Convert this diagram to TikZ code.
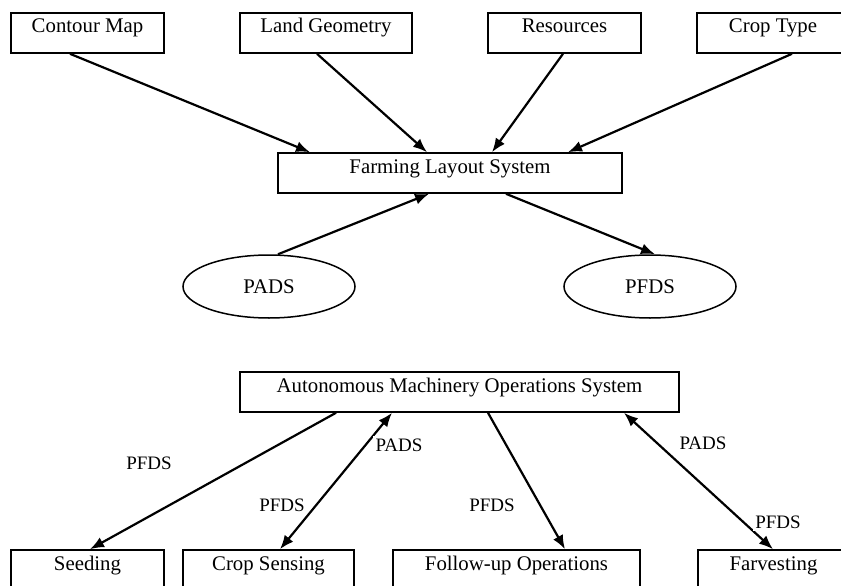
\documentclass[tikz,border=0pt]{standalone}
\usepackage{fontspec}
\setmainfont{Liberation Serif}
\usetikzlibrary{arrows.meta,shapes.geometric}

\begin{document}
\begin{tikzpicture}[
            x = 1pt, y = -1pt, % pixel units, y grows downwards
            > = {Latex[length=14pt,width=11pt]}, % arrow head style
            font = \fontsize{20.8}{24}\selectfont,
            box/.style = {draw, rectangle, line width=1.6pt, minimum height=40pt,
                          inner ysep=6pt, text height=14pt, text depth=14pt},
            oval/.style = {draw, ellipse, line width=1.5pt, minimum width=172pt, minimum height=63pt},
            tag/.style = {fill=white, inner sep=2.5pt, font=\fontsize{19}{22}\selectfont},
            flow/.style = {line width=2.2pt} % connector style
        ]
    \clip (0,0) rectangle (841,586);

	% inputs
	\node[box, minimum width=153pt] (cmap) at (87.5,33) {Contour Map};
	\node[box, minimum width=172pt] (landgeo) at (326,33) {Land Geometry};
	\node[box, minimum width=153pt] (res) at (564.5,33) {Resources};
	\node[box, minimum width=152pt] (croptype) at (773,33) {Crop Type};

	\node[box, minimum width=344pt] (fls) at (450,173) {Farming Layout System};
	\node[oval] (pads) at (269,286.5) {PADS};
	\node[oval] (pfds) at (650,286.5) {PFDS};

	% machinery part
	\node[box, minimum width=439pt] (amos) at (459.5,392) {Autonomous Machinery Operations System};
	\node[box, minimum width=153pt] (seed) at (87.5,570) {Seeding};
	\node[box, minimum width=171pt] (csense) at (268.5,570) {Crop Sensing};
	\node[box, minimum width=247pt] (follow) at (516.5,570) {Follow-up Operations};
	\node[box, minimum width=151pt] (farv) at (773.5,570) {Farvesting};

	\draw[flow,->] ([xshift=-17.5pt]cmap.south) -- ([xshift=-140pt]fls.north);
	\draw[flow,->] ([xshift=-9pt]landgeo.south) -- ([xshift=-23pt]fls.north);
	\draw[flow,->] ([xshift=-1.5pt]res.south) -- ([xshift=42pt]fls.north);
	\draw[flow,->] ([xshift=19pt]croptype.south) -- ([xshift=118pt]fls.north);
	\draw[flow,->] ([xshift=9pt]pads.north) -- ([xshift=-21pt]fls.south);
	\draw[flow,->] ([xshift=56pt]fls.south) -- ([xshift=5pt]pfds.north);

	\draw[flow,->] ([xshift=-123.5pt]amos.south) -- ([xshift=2.5pt]seed.north);
	\draw[flow,<->] ([xshift=-67.5pt]amos.south) -- ([xshift=11.5pt]csense.north);
	\draw[flow,->] ([xshift=28.5pt]amos.south) -- ([xshift=48.5pt]follow.north);
	\draw[flow,<->] ([xshift=164.5pt]amos.south) -- ([xshift=-0.5pt]farv.north);

	% labels
	\node[tag] (t1) at (149,463) {PFDS};
	\node[tag] (t2) at (399,445) {PADS};
	\node[tag] (t3) at (282,505) {PFDS};
	\node[tag] (t4) at (492,505) {PFDS};
	\node[tag] (t5) at (703,443) {PADS};
	\node[tag] (t6) at (778,522) {PFDS};

\end{tikzpicture}
\end{document}
